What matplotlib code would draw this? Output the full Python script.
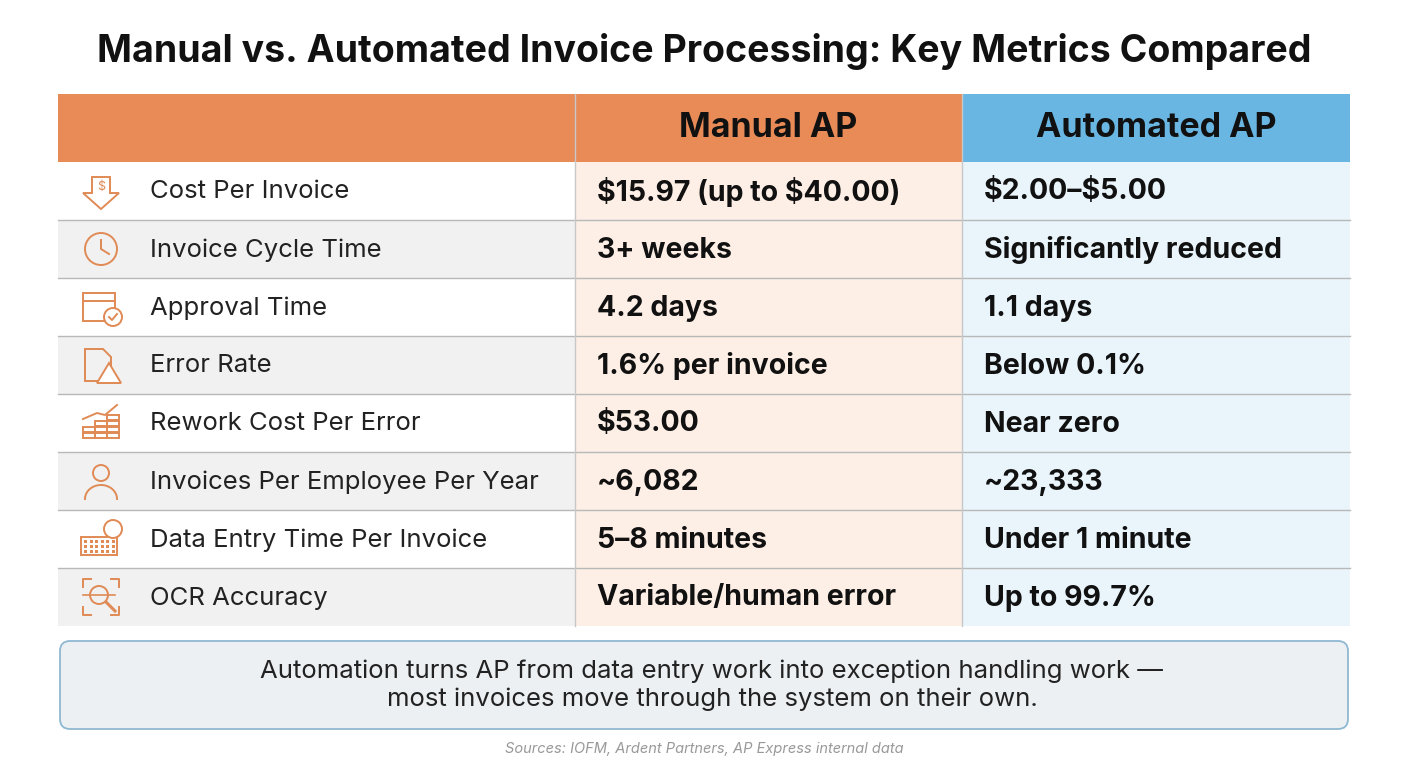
import matplotlib.pyplot as plt
from matplotlib.patches import Rectangle, FancyBboxPatch, Circle, Polygon
import numpy as np

# =====================================================
# DADOS
# =====================================================

titulo = "Manual vs. Automated Invoice Processing: Key Metrics Compared"
cabecalho = ["Manual AP", "Automated AP"]

metricas = [
    "Cost Per Invoice",
    "Invoice Cycle Time",
    "Approval Time",
    "Error Rate",
    "Rework Cost Per Error",
    "Invoices Per Employee Per Year",
    "Data Entry Time Per Invoice",
    "OCR Accuracy",
]

manual = [
    "$15.97 (up to $40.00)",
    "3+ weeks",
    "4.2 days",
    "1.6% per invoice",
    "$53.00",
    "~6,082",
    "5\u20138 minutes",
    "Variable/human error",
]

automatizado = [
    "$2.00\u2013$5.00",
    "Significantly reduced",
    "1.1 days",
    "Below 0.1%",
    "Near zero",
    "~23,333",
    "Under 1 minute",
    "Up to 99.7%",
]

nota = ("Automation turns AP from data entry work into exception handling work \u2014\n"
        "most invoices move through the system on their own.")
fonte = "Sources: IOFM, Ardent Partners, AP Express internal data"

# =====================================================
# LAYOUT (pixels)
# =====================================================

W, H = 1408, 768
x0, x1, x2, x3 = 58, 575, 962, 1350
y_head, h_head, h_row = 94, 68, 58
laranja = "#E88B57"
azul = "#6AB6E2"
icone = "#E08A55"

plt.rcParams["font.family"] = ["Inter", "DejaVu Sans"]

fig = plt.figure(figsize=(W / 100, H / 100), dpi=100)
ax = fig.add_axes([0, 0, 1, 1])
ax.set_xlim(0, W)
ax.set_ylim(H, 0)
ax.axis("off")

ax.text(W / 2, 51, titulo, ha="center", va="center",
        fontsize=27, fontweight="bold", color="#111111")

# cabecalho
ax.add_patch(Rectangle((x0, y_head), x2 - x0, h_head, color=laranja, lw=0))
ax.add_patch(Rectangle((x2, y_head), x3 - x2, h_head, color=azul, lw=0))
ax.text((x1 + x2) / 2, y_head + h_head / 2, cabecalho[0], ha="center",
        va="center", fontsize=24.5, fontweight="bold", color="#111111")
ax.text((x2 + x3) / 2, y_head + h_head / 2, cabecalho[1], ha="center",
        va="center", fontsize=24.5, fontweight="bold", color="#111111")


def desenha_icone(i, cx, cy):
    kw = dict(fill=False, ec=icone, lw=1.4)
    if i == 0:
        ax.add_patch(Polygon([[cx - 9, cy - 14], [cx + 9, cy - 14], [cx + 9, cy + 2],
                              [cx + 18, cy + 2], [cx, cy + 18], [cx - 18, cy + 2],
                              [cx - 9, cy + 2]], closed=True, **kw))
        ax.text(cx, cy - 4, "$", ha="center", va="center", color=icone,
                fontsize=9, parse_math=False)
    elif i == 1:
        ax.add_patch(Circle((cx, cy), 16, **kw))
        ax.plot([cx, cx, cx + 8], [cy - 9, cy, cy + 5], color=icone, lw=1.4)
    elif i == 2:
        ax.add_patch(Rectangle((cx - 18, cy - 14), 32, 28, **kw))
        ax.plot([cx - 18, cx + 14], [cy - 6, cy - 6], color=icone, lw=1.4)
        ax.add_patch(Circle((cx + 12, cy + 10), 9, fc="white", ec=icone, lw=1.4))
        ax.plot([cx + 8, cx + 11, cx + 16], [cy + 10, cy + 13, cy + 7], color=icone, lw=1.4)
    elif i == 3:
        ax.add_patch(Polygon([[cx - 16, cy - 16], [cx + 2, cy - 16], [cx + 10, cy - 8],
                              [cx + 10, cy + 16], [cx - 16, cy + 16]], closed=True, **kw))
        ax.add_patch(Polygon([[cx + 8, cy - 2], [cx + 20, cy + 18], [cx - 4, cy + 18]],
                             closed=True, fc="white", ec=icone, lw=1.4))
    elif i == 4:
        for k, (dx, n) in enumerate([(-12, 2), (0, 3), (12, 4)]):
            for j in range(n):
                ax.add_patch(Rectangle((cx + dx - 6, cy + 16 - (j + 1) * 6), 12, 5, **kw))
        ax.plot([cx - 18, cx - 4, cx + 4, cx + 16], [cy - 4, cy - 10, cy - 8, cy - 18],
                color=icone, lw=1.4)
    elif i == 5:
        ax.add_patch(Circle((cx, cy - 8), 8, **kw))
        t = np.linspace(np.pi, 2 * np.pi, 30)
        ax.plot(cx + 16 * np.cos(t), cy + 18 + 14 * np.sin(t), color=icone, lw=1.4)
    elif i == 6:
        ax.add_patch(Rectangle((cx - 20, cy - 2), 36, 18, **kw))
        for r in range(3):
            for c in range(6):
                ax.add_patch(Rectangle((cx - 17 + c * 5.5, cy + 1 + r * 5), 3, 3,
                                       color=icone, lw=0))
        ax.add_patch(Circle((cx + 12, cy - 10), 9, fc="white", ec=icone, lw=1.4))
    else:
        for sx in (-1, 1):
            for sy in (-1, 1):
                ax.plot([cx + sx * 18, cx + sx * 18, cx + sx * 10],
                        [cy + sy * 10, cy + sy * 18, cy + sy * 18], color=icone, lw=1.4)
        ax.add_patch(Circle((cx - 2, cy - 2), 9, **kw))
        ax.plot([cx + 5, cx + 14], [cy + 5, cy + 14], color=icone, lw=2.2)
        ax.plot([cx - 18, cx + 14], [cy - 2, cy - 2], color=icone, lw=1.2)


for i, (m, a, b) in enumerate(zip(metricas, manual, automatizado)):
    y = y_head + h_head + i * h_row
    fundo = "#FFFFFF" if i % 2 == 0 else "#F1F1F1"
    ax.add_patch(Rectangle((x0, y), x1 - x0, h_row, color=fundo, lw=0))
    ax.add_patch(Rectangle((x1, y), x2 - x1, h_row, color="#FDEFE6", lw=0))
    ax.add_patch(Rectangle((x2, y), x3 - x2, h_row, color="#E9F4FB", lw=0))
    if i > 0:
        ax.plot([x0, x3], [y, y], color="#B8B8B8", lw=1)
    desenha_icone(i, 101, y + h_row / 2)
    cy = y + h_row / 2 + 1
    ax.text(150, cy, m, ha="left", va="center", fontsize=18.5,
            color="#222222", parse_math=False)
    ax.text(597, cy, a, ha="left", va="center", fontsize=20.5,
            fontweight="bold", color="#111111", parse_math=False)
    ax.text(984, cy, b, ha="left", va="center", fontsize=20.5,
            fontweight="bold", color="#111111", parse_math=False)

y_fim = y_head + h_head + len(metricas) * h_row
ax.plot([x1, x1], [y_head, y_fim], color="#C8C8C8", lw=1)
ax.plot([x2, x2], [y_head, y_fim], color="#C8C8C8", lw=1)

# nota
ax.add_patch(FancyBboxPatch((x0 + 2, 641), x3 - x0 - 4, 88,
                            boxstyle="round,pad=0,rounding_size=10",
                            fc="#ECF0F3", ec="#8FB8D2", lw=1.3))
ax.text(712, 685, nota, ha="center", va="center", fontsize=18.5,
        color="#222222", linespacing=1.25)

ax.text(704, 749, fonte, ha="center", va="center", fontsize=10.5,
        style="italic", color="#999999")

plt.savefig("out.png", dpi=100)
plt.close(fig)
